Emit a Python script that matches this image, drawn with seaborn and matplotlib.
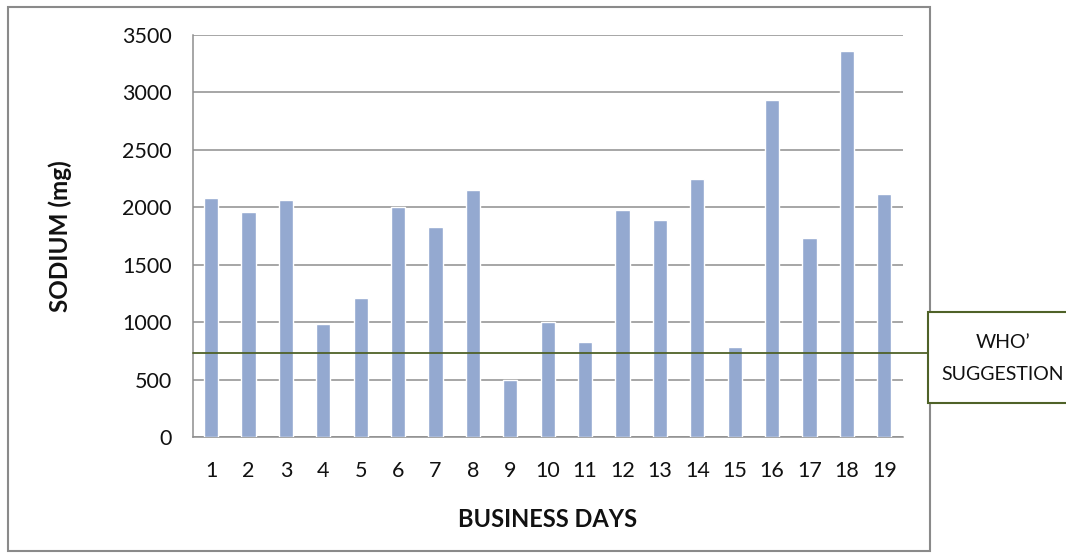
import matplotlib
matplotlib.use("Agg")
import matplotlib.pyplot as plt
from matplotlib.patches import Rectangle
import seaborn as sns
import pandas as pd

# Daily sodium intake over 19 business days
days = [str(d) for d in range(1, 20)]
sodium_mg = [2080, 1960, 2060, 980, 1210, 2000, 1830, 2150, 500, 1000,
             830, 1980, 1890, 2250, 780, 2930, 1730, 3360, 2120]
who_limit = 730
y_ticks = [0, 500, 1000, 1500, 2000, 2500, 3000, 3500]

sns.set_theme(style="white")
plt.rcParams["font.family"] = ["Lato", "DejaVu Sans"]

W, H = 1066, 554
fig = plt.figure(figsize=(W / 100, H / 100), dpi=100)
fig.patch.set_facecolor("white")

# plot area in pixel terms
left, right, top, bottom = 192.5, 903, 35, 437
ax = fig.add_axes([left / W, (H - bottom) / H, (right - left) / W, (bottom - top) / H])

df = pd.DataFrame({"day": days, "sodium": sodium_mg})
sns.barplot(data=df, x="day", y="sodium", color="#94A9D0", saturation=1,
            width=0.38, ax=ax, zorder=3)

ax.set_ylim(0, 3500)
ax.set_xlim(-0.5, len(days) - 0.5)
ax.set_yticks(y_ticks)
ax.set_yticklabels([str(t) for t in y_ticks])

grid_c = "#8E8E8E"
ax.yaxis.grid(True, color=grid_c, linewidth=1.1, zorder=0)
ax.set_axisbelow(True)
for s in ["top", "right"]:
    ax.spines[s].set_visible(False)
for s in ["left", "bottom"]:
    ax.spines[s].set_color(grid_c)
    ax.spines[s].set_linewidth(1.1)

txt_c = "#111111"
ax.tick_params(axis="x", length=0, pad=17, labelsize=15.5, labelcolor=txt_c)
ax.tick_params(axis="y", length=0, pad=15, labelsize=15.5, labelcolor=txt_c)

ax.set_xlabel("BUSINESS DAYS", fontsize=17, fontweight="bold", color=txt_c,
              labelpad=20)
ax.set_ylabel("SODIUM (mg)", fontsize=17.5, fontweight="bold", color=txt_c,
              labelpad=36)

# WHO reference line running out to the note box
box_left = 928
green = "#4F6228"
ax.axhline(who_limit, xmin=0, xmax=(box_left - left) / (right - left),
           color=green, linewidth=1.3, clip_on=False, zorder=4)

# note box
fig.patches.append(Rectangle((box_left / W, (H - 403) / H), (W + 20 - box_left) / W,
                             (403 - 312) / H, transform=fig.transFigure,
                             facecolor="white", edgecolor=green, linewidth=1.5,
                             clip_on=False, zorder=5))
fig.text(1003 / W, 1 - 343 / H, "WHO\u2019", ha="center", va="center",
         fontsize=14, color=txt_c, zorder=6)
fig.text(1003 / W, 1 - 374 / H, "SUGGESTION", ha="center", va="center",
         fontsize=14, color=txt_c, zorder=6)

# chart frame
fig.patches.append(Rectangle((8 / W, (H - 551) / H), (930 - 8) / W, (551 - 7) / H,
                             transform=fig.transFigure, facecolor="none",
                             edgecolor="#8A8A8A", linewidth=1.5, zorder=1))

fig.savefig("out.png", dpi=100, facecolor="white")
